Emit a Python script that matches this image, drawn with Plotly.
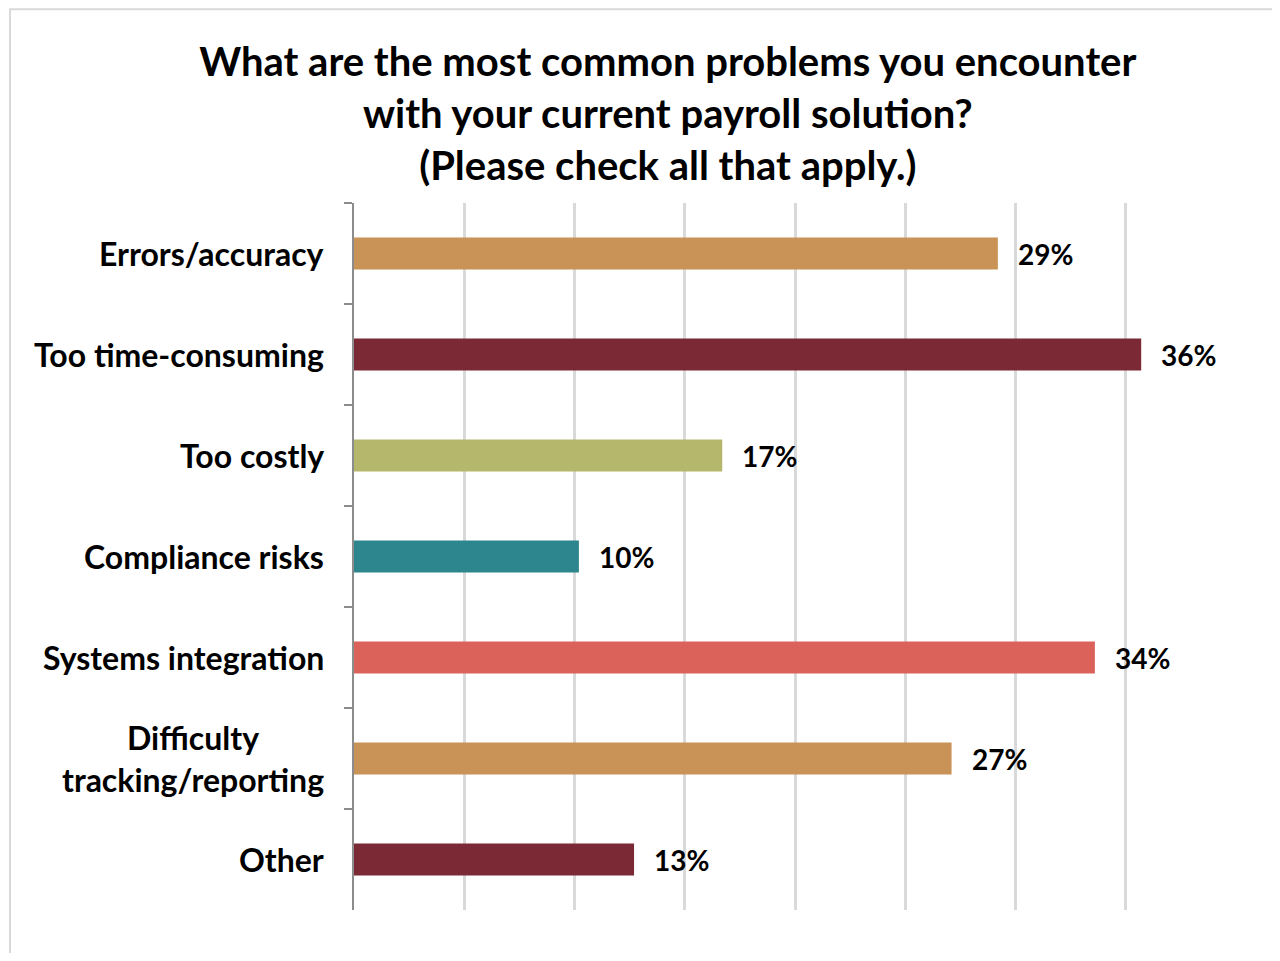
import plotly.graph_objects as go

# Survey answers (share of respondents)
categories = [
    "Errors/accuracy",
    "Too time-consuming",
    "Too costly",
    "Compliance risks",
    "Systems integration",
    "Difficulty<br>tracking/reporting",
    "Other",
]
shares = [0.292, 0.357, 0.167, 0.102, 0.336, 0.271, 0.127]
bar_colors = ["#C99256", "#7B2934", "#B5B86C", "#2D868E", "#DB625A", "#C99256", "#7B2934"]

TITLE = ("What are the most common problems you encounter<br>"
         "with your current payroll solution?<br>"
         "(Please check all that apply.)")
FONT = "Lato"

fig = go.Figure(go.Bar(
    x=shares,
    y=categories,
    orientation="h",
    marker=dict(color=bar_colors, line=dict(width=0)),
    hoverinfo="skip",
))

# value labels to the right of each bar
for cat, val in zip(categories, shares):
    fig.add_annotation(
        x=val, y=cat, xref="x", yref="y",
        text=f"<b>{val:.0%}</b>", showarrow=False,
        xanchor="left", xshift=18,
        font=dict(family=FONT, size=28, color="#000000"),
    )

# category labels, centred on each line like the original
for cat in categories:
    fig.add_annotation(
        x=0, y=cat, xref="paper", yref="y",
        text=f"<b>{cat}</b>", showarrow=False,
        xanchor="right", xshift=-28, align="center",
        font=dict(family=FONT, size=32, color="#000000"),
    )

# chart frame
fig.add_shape(type="rect", xref="paper", yref="paper",
              x0=-0.39, x1=1.1, y0=-0.1, y1=1.274,
              line=dict(color="#D9D9D9", width=2), layer="below")

fig.update_layout(
    width=1264, height=945,
    margin=dict(l=346, r=36, t=195, b=43),
    paper_bgcolor="white", plot_bgcolor="white",
    bargap=0.684,
    showlegend=False,
    title=dict(
        text=f"<b>{TITLE}</b>",
        x=0.522, xanchor="center", xref="container",
        y=0.928, yanchor="top", yref="container",
        font=dict(family=FONT, size=40, color="#000000"),
    ),
    font=dict(family=FONT),
)
fig.update_xaxes(
    range=[0, 0.4], dtick=0.05, showgrid=True,
    gridcolor="#D9D9D9", gridwidth=3,
    showticklabels=False, zeroline=False, showline=False, ticks="",
)
fig.update_yaxes(
    autorange="reversed", showticklabels=False,
    tickson="boundaries", ticks="outside", ticklen=8,
    tickcolor="#8C8C8C", tickwidth=2,
    showline=True, linecolor="#8C8C8C", linewidth=2,
    showgrid=False,
)

fig.write_html("out.html")
